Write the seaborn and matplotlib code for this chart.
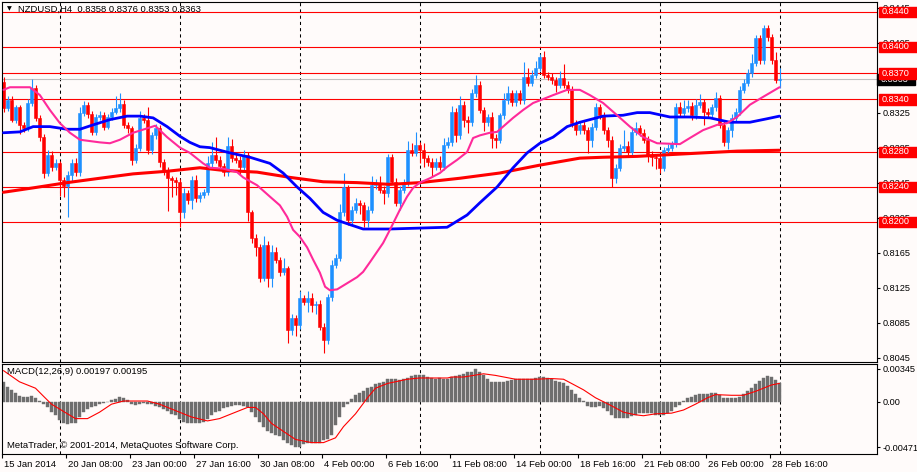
import numpy as np
import pandas as pd
import matplotlib
matplotlib.use("Agg")
import matplotlib.pyplot as plt
import matplotlib.transforms as mtransforms
from matplotlib.patches import Rectangle
import seaborn as sns

# ---------------- data ----------------
first_open = 0.8360
closes = [
    0.8330, 0.8339, 0.8317, 0.8331, 0.8311, 0.8307, 0.8336, 0.8353, 0.8319, 0.8297,
    0.8256, 0.8277, 0.8263, 0.8267, 0.8248, 0.8241, 0.8254, 0.8267, 0.8257, 0.8325,
    0.8334, 0.8323, 0.8303, 0.8320, 0.8322, 0.8309, 0.8320, 0.8326, 0.8330, 0.8335,
    0.8311, 0.8307, 0.8271, 0.8285, 0.8319, 0.8317, 0.8282, 0.8299, 0.8307, 0.8269,
    0.8259, 0.8250, 0.8248, 0.8246, 0.8211, 0.8233, 0.8225, 0.8248, 0.8227, 0.8231,
    0.8234, 0.8267, 0.8277, 0.8271, 0.8264, 0.8257, 0.8287, 0.8273, 0.8271, 0.8263,
    0.8277, 0.8211, 0.8182, 0.8171, 0.8136, 0.8174, 0.8136, 0.8166, 0.8157, 0.8143,
    0.8147, 0.8077, 0.8090, 0.8082, 0.8113, 0.8109, 0.8113, 0.8105, 0.8106, 0.8080,
    0.8065, 0.8114, 0.8151, 0.8159, 0.8211, 0.8240, 0.8202, 0.8214, 0.8222, 0.8219,
    0.8202, 0.8214, 0.8242, 0.8245, 0.8237, 0.8233, 0.8274, 0.8246, 0.8222, 0.8237,
    0.8245, 0.8282, 0.8279, 0.8288, 0.8282, 0.8273, 0.8269, 0.8263, 0.8269, 0.8263,
    0.8288, 0.8291, 0.8326, 0.8299, 0.8334, 0.8317, 0.8314, 0.8347, 0.8357, 0.8328,
    0.8314, 0.8320, 0.8296, 0.8294, 0.8322, 0.8339, 0.8347, 0.8337, 0.8347, 0.8339,
    0.8366, 0.8359, 0.8368, 0.8376, 0.8389, 0.8368, 0.8366, 0.8362, 0.8357, 0.8365,
    0.8357, 0.8351, 0.8313, 0.8305, 0.8311, 0.8305, 0.8294, 0.8309, 0.8331, 0.8322,
    0.8305, 0.8294, 0.8250, 0.8262, 0.8285, 0.8287, 0.8280, 0.8303, 0.8307, 0.8302,
    0.8294, 0.8277, 0.8274, 0.8273, 0.8262, 0.8282, 0.8285, 0.8290, 0.8331, 0.8325,
    0.8330, 0.8333, 0.8322, 0.8334, 0.8337, 0.8326, 0.8323, 0.8331, 0.8342, 0.8311,
    0.8291, 0.8305, 0.8319, 0.8326, 0.8351, 0.8359, 0.8370, 0.8382, 0.8410, 0.8385,
    0.8422, 0.8411, 0.8385, 0.8362, 0.8363]

upper_wick_pips = [
    6, 5, 5, 3, 3, 3, 4, 10, 4, 3,
    3, 5, 4, 5, 3, 4, 4, 5, 6, 6,
    4, 3, 4, 3, 5, 4, 3, 4, 14, 12,
    4, 3, 3, 4, 8, 5, 15, 4, 5, 4,
    3, 4, 3, 3, 3, 6, 4, 5, 6, 3,
    4, 8, 14, 20, 4, 3, 10, 8, 5, 4,
    5, 3, 3, 4, 4, 10, 4, 8, 5, 3,
    12, 3, 5, 4, 8, 3, 8, 6, 4, 5,
    4, 4, 5, 4, 10, 16, 2, 4, 5, 3,
    4, 4, 10, 4, 8, 4, 4, 4, 4, 4,
    4, 11, 8, 15, 4, 8, 4, 4, 4, 6,
    8, 6, 6, 4, 10, 4, 4, 5, 11, 4,
    4, 4, 6, 4, 3, 8, 8, 4, 4, 4,
    17, 10, 6, 8, 3, 6, 4, 4, 4, 8,
    16, 4, 4, 4, 4, 4, 4, 4, 5, 4,
    4, 4, 4, 4, 4, 18, 6, 6, 7, 4,
    4, 4, 4, 4, 4, 4, 4, 3, 5, 6,
    9, 6, 4, 6, 9, 4, 4, 4, 6, 3,
    4, 4, 4, 4, 4, 4, 5, 10, 4, 4,
    3, 3, 4, 9, 13]

lower_wick_pips = [
    4, 3, 3, 4, 10, 4, 3, 4, 4, 4,
    6, 4, 5, 4, 18, 12, 35, 8, 4, 4,
    4, 4, 4, 4, 3, 4, 3, 3, 3, 4,
    4, 5, 6, 4, 4, 4, 4, 4, 4, 6,
    5, 37, 20, 15, 17, 6, 5, 10, 4, 4,
    4, 3, 4, 4, 4, 5, 4, 4, 4, 8,
    4, 10, 6, 10, 5, 4, 10, 10, 4, 5,
    4, 15, 6, 12, 4, 4, 12, 8, 10, 4,
    15, 4, 4, 4, 4, 4, 5, 4, 4, 10,
    8, 8, 4, 4, 4, 12, 4, 2, 4, 8,
    4, 4, 4, 4, 15, 10, 5, 10, 4, 4,
    4, 4, 4, 8, 4, 8, 12, 4, 4, 4,
    10, 4, 12, 10, 4, 4, 4, 4, 4, 4,
    4, 4, 4, 4, 4, 4, 4, 4, 8, 4,
    4, 4, 4, 6, 4, 4, 15, 8, 4, 4,
    4, 8, 10, 5, 4, 4, 4, 4, 4, 4,
    4, 8, 10, 12, 6, 4, 4, 4, 4, 4,
    4, 4, 5, 4, 4, 15, 4, 4, 4, 4,
    4, 8, 8, 4, 4, 4, 4, 4, 4, 4,
    4, 4, 4, 3, 9]

# moving averages (bar index, price)
ma_fast_idx = [0, 1.6, 6.6, 9.1, 11.6, 14.1, 16.6, 19.1, 24.1, 26.6, 29.1, 32.4, 35.9, 37.9,
               40.9, 44.1, 46.6, 49.9, 51.6, 54.9, 58.4, 59.9, 63.4, 66.6, 69.1, 70.9, 72.4,
               74.1, 75.9, 77.4, 79.1, 80.4, 81.6, 83.4, 85.9, 88.4, 89.9, 91.6, 93.4, 94.9,
               96.6, 99.1, 100.9, 102.4, 104.1, 106.6, 109.1, 110.9, 113.4, 115.9, 117.4,
               119.1, 121.6, 123.4, 124.9, 127.4, 129.9, 132.4, 134.1, 137.4, 140.9, 144.1,
               146.6, 149.9, 153.4, 156.6, 159.9, 163.4, 169.1, 171.6, 174.9, 178.4, 180.9,
               183.4, 186.6, 189.9, 194]
ma_fast = [0.8351, 0.8354, 0.8354, 0.8345, 0.8328, 0.8313, 0.8302, 0.8294, 0.8291, 0.8290,
           0.8294, 0.8302, 0.8307, 0.8310, 0.8297, 0.8285, 0.8279, 0.8267, 0.8262, 0.8261,
           0.8257, 0.8251, 0.8242, 0.8229, 0.8219, 0.8206, 0.8191, 0.8183, 0.8171, 0.8157,
           0.8142, 0.8126, 0.8122, 0.8123, 0.8130, 0.8137, 0.8143, 0.8154, 0.8166, 0.8176,
           0.8191, 0.8214, 0.8229, 0.8239, 0.8245, 0.8250, 0.8256, 0.8263, 0.8271, 0.8280,
           0.8296, 0.8299, 0.8302, 0.8303, 0.8309, 0.8319, 0.8328, 0.8336, 0.8339, 0.8345,
           0.8351, 0.8351, 0.8345, 0.8336, 0.8322, 0.8309, 0.8297, 0.8290, 0.8289, 0.8296,
           0.8305, 0.8311, 0.8313, 0.8320, 0.8334, 0.8343, 0.8354]

ma_mid_idx = [0, 4.1, 7.4, 11.6, 15.9, 19.1, 22.4, 26.6, 30.9, 34.1, 37.4, 40.9, 44.1, 46.6,
              49.1, 51.6, 56.6, 61.6, 66.6, 69.9, 73.4, 76.6, 79.9, 83.4, 86.6, 89.9, 96.6,
              110.9, 115.9, 119.1, 123.4, 127.4, 130.9, 134.1, 137.4, 140.9, 144.1, 146.6,
              149.9, 154.9, 158.4, 161.6, 166.6, 171.6, 176.6, 181.6, 186.6, 190.9, 194]
ma_mid = [0.8302, 0.8303, 0.8309, 0.8309, 0.8306, 0.8306, 0.8311, 0.8317, 0.8321, 0.8321,
          0.8319, 0.8309, 0.8298, 0.8291, 0.8286, 0.8285, 0.8279, 0.8274, 0.8267, 0.8256,
          0.8240, 0.8227, 0.8211, 0.8202, 0.8197, 0.8192, 0.8192, 0.8194, 0.8208, 0.8222,
          0.8240, 0.8262, 0.8279, 0.8290, 0.8297, 0.8309, 0.8314, 0.8317, 0.8321, 0.8322,
          0.8325, 0.8325, 0.8320, 0.8320, 0.8319, 0.8314, 0.8314, 0.8318, 0.8321]

ma_slow_idx = [0, 7.4, 15.9, 24.1, 32.4, 40.9, 49.1, 54.9, 63.4, 71.6, 79.9, 88.4, 96.6,
               104.1, 114.1, 124.1, 134.1, 144.1, 149.9, 158.4, 166.6, 174.9, 183.4, 194]
ma_slow = [0.8234, 0.8239, 0.8245, 0.8250, 0.8255, 0.8258, 0.8262, 0.8259, 0.8257, 0.8251,
           0.8246, 0.8245, 0.8243, 0.8245, 0.8250, 0.8256, 0.8265, 0.8273, 0.8274, 0.8275,
           0.8277, 0.8279, 0.8281, 0.8282]

macd_hist = [
    0.00211, 0.00161, 0.00127, 0.00094, 0.00060, 0.00050, 0.00050, 0.00060, 0.00044, 0.00010,
    -0.00023, -0.00057, -0.00107, -0.00141, -0.00191, -0.00218, -0.00231, -0.00224, -0.00224, -0.00157,
    -0.00107, -0.00074, -0.00050, -0.00040, -0.00023, -0.00013, 0.00003, 0.00017, 0.00034, 0.00050,
    0.00044, 0.00017, -0.00017, -0.00030, -0.00017, -0.00013, -0.00017, -0.00023, -0.00040, -0.00057,
    -0.00074, -0.00090, -0.00124, -0.00141, -0.00174, -0.00208, -0.00218, -0.00224, -0.00224, -0.00224,
    -0.00208, -0.00174, -0.00141, -0.00107, -0.00090, -0.00064, -0.00050, -0.00040, -0.00034, -0.00030,
    -0.00040, -0.00057, -0.00107, -0.00157, -0.00208, -0.00258, -0.00308, -0.00325, -0.00342, -0.00358,
    -0.00399, -0.00425, -0.00452, -0.00471, -0.00466, -0.00442, -0.00432, -0.00425, -0.00425, -0.00432,
    -0.00399, -0.00385, -0.00342, -0.00241, -0.00157, -0.00057, -0.00017, 0.00027, 0.00070, 0.00094,
    0.00111, 0.00144, 0.00161, 0.00184, 0.00194, 0.00211, 0.00245, 0.00245, 0.00238, 0.00228,
    0.00238, 0.00251, 0.00271, 0.00285, 0.00285, 0.00278, 0.00261, 0.00251, 0.00245, 0.00251,
    0.00238, 0.00238, 0.00261, 0.00271, 0.00285, 0.00295, 0.00312, 0.00318, 0.00345, 0.00318,
    0.00278, 0.00245, 0.00211, 0.00211, 0.00211, 0.00211, 0.00218, 0.00228, 0.00238, 0.00238,
    0.00238, 0.00245, 0.00245, 0.00251, 0.00261, 0.00261, 0.00251, 0.00245, 0.00218, 0.00211,
    0.00194, 0.00171, 0.00127, 0.00084, 0.00037, 0.00010, -0.00040, -0.00050, -0.00050, -0.00040,
    -0.00064, -0.00097, -0.00141, -0.00164, -0.00164, -0.00164, -0.00164, -0.00144, -0.00131, -0.00117,
    -0.00117, -0.00117, -0.00117, -0.00131, -0.00131, -0.00131, -0.00117, -0.00090, -0.00057, -0.00030,
    0.00010, 0.00037, 0.00050, 0.00070, 0.00084, 0.00084, 0.00084, 0.00090, 0.00094, 0.00070,
    0.00044, 0.00044, 0.00044, 0.00044, 0.00050, 0.00084, 0.00117, 0.00151, 0.00184, 0.00218,
    0.00251, 0.00268, 0.00258, 0.00235, 0.00197]

signal_idx = [0, 4, 8, 10, 12, 16, 18, 21, 24, 27, 30, 36, 39, 43, 47, 51, 54, 58, 61, 63,
              65, 67, 70, 73, 77, 80, 83, 85, 88, 91, 93, 96, 101, 104, 108, 111, 112, 115,
              120, 123, 128, 133, 137, 140, 142, 145, 148, 152, 155, 158, 160, 163, 167,
              170, 173, 176, 178, 182, 185, 188, 192, 194]
signal_vals = [0.00328, 0.00211, 0.00144, 0.00060, -0.00023, -0.00124, -0.00174, -0.00174,
               -0.00107, -0.00023, 0.00010, 0.00010, -0.00023, -0.00090, -0.00157, -0.00198,
               -0.00174, -0.00107, -0.00057, -0.00057, -0.00124, -0.00224, -0.00308, -0.00392,
               -0.00425, -0.00425, -0.00375, -0.00258, -0.00124, 0.00044, 0.00144, 0.00194,
               0.00238, 0.00251, 0.00251, 0.00251, 0.00261, 0.00261, 0.00295, 0.00278, 0.00238,
               0.00238, 0.00245, 0.00238, 0.00194, 0.00127, 0.00044, -0.00040, -0.00107,
               -0.00134, -0.00144, -0.00124, -0.00117, -0.00084, -0.00023, 0.00044, 0.00077,
               0.00070, 0.00070, 0.00111, 0.00178, 0.00195]

level_lines = [0.8440, 0.8400, 0.8370, 0.8340, 0.8280, 0.8240, 0.8200]
price_ticks = [0.8445, 0.8405, 0.8365, 0.8325, 0.8285, 0.8245, 0.8205, 0.8165, 0.8125, 0.8085, 0.8045]
last_price = 0.8363
macd_ticks = [0.00345, 0.0, -0.00471]
macd_tick_labels = ["0.00345", "0.00", "-0.00471"]
time_tick_idx = [-0.3, 15.6, 31.6, 47.6, 63.6, 79.6, 95.6, 111.6, 127.6, 143.6, 159.6, 175.6, 191.6]
time_labels = ["15 Jan 2014", "20 Jan 08:00", "23 Jan 00:00", "27 Jan 16:00", "30 Jan 08:00",
               "4 Feb 00:00", "6 Feb 16:00", "11 Feb 08:00", "14 Feb 00:00", "18 Feb 16:00",
               "21 Feb 08:00", "26 Feb 00:00", "28 Feb 16:00"]
vgrid_idx = [14, 44, 74, 104, 134, 164, 194]
title_text = "NZDUSD,H4  0.8358 0.8376 0.8353 0.8363"
macd_title = "MACD(12,26,9) 0.00197 0.00195"
copyright_text = "MetaTrader, \u00a9 2001-2014, MetaQuotes Software Corp."

# ---------------- style ----------------
BG = "#fffbfa"
BULL = "#1e90ff"
BEAR = "#ff0000"
sns.set_style("white", {"axes.facecolor": BG, "figure.facecolor": BG})
plt.rcParams["font.family"] = ["Liberation Sans", "DejaVu Sans"]
FS = 6.8      # left / bottom texts
FSR = 6.6     # right-hand price scale

W, H = 917, 472
fig = plt.figure(figsize=(W / 100, H / 100), dpi=100, facecolor=BG)


def rect(x0, y0, x1, y1):
    return [x0 / W, 1 - y1 / H, (x1 - x0) / W, (y1 - y0) / H]


ax = fig.add_axes(rect(2, 2, 877, 362))
axm = fig.add_axes(rect(2, 364, 877, 454), sharex=ax)

n = len(closes)
idx = np.arange(n)
df = pd.DataFrame({"idx": idx, "close": closes})
df["open"] = [first_open] + closes[:-1]
df["top"] = df[["open", "close"]].max(axis=1)
df["bot"] = df[["open", "close"]].min(axis=1)
df["high"] = df["top"] + np.array(upper_wick_pips) * 0.0001
df["low"] = df["bot"] - np.array(lower_wick_pips) * 0.0001
df["bull"] = df["close"] >= df["open"]
colors = np.where(df["bull"], BULL, BEAR)

x_left = (2 - 3.5) / 4
x_right = (877 - 3.5) / 4

# ---------------- main price panel ----------------
for v in vgrid_idx:
    ax.axvline(v, color="black", lw=0.75, linestyle=(0, (3, 3)), zorder=1)
for lv in level_lines:
    ax.axhline(lv, color="#ff0000", lw=0.8, zorder=1.2)
ax.axhline(last_price, color="#c0c0c0", lw=0.8, zorder=1.1)

ax.vlines(df["idx"], df["low"], df["high"], colors=colors, lw=0.8, zorder=2)
heights = np.maximum(df["top"] - df["bot"], 0.00008)
ax.bar(df["idx"], heights, bottom=df["bot"], width=0.75, color=colors,
       edgecolor=colors, linewidth=0.4, zorder=2.5)

sns.lineplot(x=ma_slow_idx, y=ma_slow, ax=ax, color="#ff0000", lw=2.2, zorder=4)
sns.lineplot(x=ma_mid_idx, y=ma_mid, ax=ax, color="#0000ff", lw=2.0, zorder=4.2)
sns.lineplot(x=ma_fast_idx, y=ma_fast, ax=ax, color="#ff2a9a", lw=1.5, zorder=4.4)

ax.set_xlim(x_left, x_right)
ax.set_ylim(0.8440 - 350 / 8750, 0.8440 + 10 / 8750)
ax.yaxis.tick_right()
ax.set_yticks(price_ticks)
ax.set_yticklabels([f"{p:.4f}" for p in price_ticks])
ax.tick_params(axis="y", direction="out", length=2.5, width=0.8, pad=1.5,
               labelsize=FSR, colors="black", right=True, left=False)
ax.tick_params(axis="x", bottom=False, labelbottom=False)
ax.set_xlabel("")
ax.set_ylabel("")
for s in ax.spines.values():
    s.set_visible(True)
    s.set_color("black")
    s.set_linewidth(0.8)

# price boxes at right
blend = mtransforms.blended_transform_factory(ax.transAxes, ax.transData)
box_h = 10.5 / 8750
bx0 = (879 - 2) / 875
bw = (917 - 879) / 875
ax.add_patch(Rectangle(((877 - 2) / 875, last_price - box_h / 2), (915 - 877) / 875, box_h,
                       transform=blend, color="black", clip_on=False, zorder=6))
ax.text((881 - 2) / 875, last_price, f"{last_price:.4f}", transform=blend, color="white",
        fontsize=FSR, va="center", ha="left", clip_on=False, zorder=6.5)
for lv in level_lines:
    ax.add_patch(Rectangle((bx0, lv - box_h / 2), bw, box_h, transform=blend,
                           color="#ff0000", clip_on=False, zorder=7))
    ax.text((882 - 2) / 875, lv, f"{lv:.4f}", transform=blend, color="white",
            fontsize=FSR, va="center", ha="left", clip_on=False, zorder=7.5)

# ---------------- MACD panel ----------------
for v in vgrid_idx:
    axm.axvline(v, color="black", lw=0.75, linestyle=(0, (3, 3)), zorder=1)
axm.bar(idx, macd_hist, width=0.72, color="#6e6e6e", edgecolor="#6e6e6e",
        linewidth=0.3, zorder=2)
sns.lineplot(x=signal_idx, y=signal_vals, ax=axm, color="#ff0000", lw=0.8, zorder=3)
axm.set_ylim(-0.00471 - 7 * 0.0001046, 0.00345 + 5 * 0.0001046)
axm.set_xlim(x_left, x_right)
axm.yaxis.tick_right()
axm.set_yticks(macd_ticks)
axm.set_yticklabels(macd_tick_labels)
axm.tick_params(axis="y", direction="out", length=2.5, width=0.8, pad=1.5,
                labelsize=FSR, colors="black", right=True, left=False)
axm.set_xticks(time_tick_idx)
axm.set_xticklabels(time_labels)
axm.tick_params(axis="x", direction="out", length=3, width=0.8, pad=1.0,
                labelsize=FS, colors="black", bottom=True)
offset = mtransforms.ScaledTranslation(2 / 100, 0, fig.dpi_scale_trans)
for lab in axm.get_xticklabels():
    lab.set_horizontalalignment("left")
    lab.set_transform(lab.get_transform() + offset)
axm.set_xlabel("")
axm.set_ylabel("")
for s in axm.spines.values():
    s.set_visible(True)
    s.set_color("black")
    s.set_linewidth(0.8)

# ---------------- texts ----------------
fig.text(7 / W, 1 - 9 / H, "\u25bc", fontsize=4.5, va="center", ha="left", color="black",
         family=["DejaVu Sans"])
fig.text(18 / W, 1 - 9 / H, title_text, fontsize=FS, va="center", ha="left", color="black")
fig.text(7 / W, 1 - 372 / H, macd_title, fontsize=FS, va="center", ha="left", color="black")
fig.text(7 / W, 1 - 446 / H, copyright_text, fontsize=FS, va="center", ha="left", color="black")

fig.savefig("out.png", dpi=100, facecolor=BG)
